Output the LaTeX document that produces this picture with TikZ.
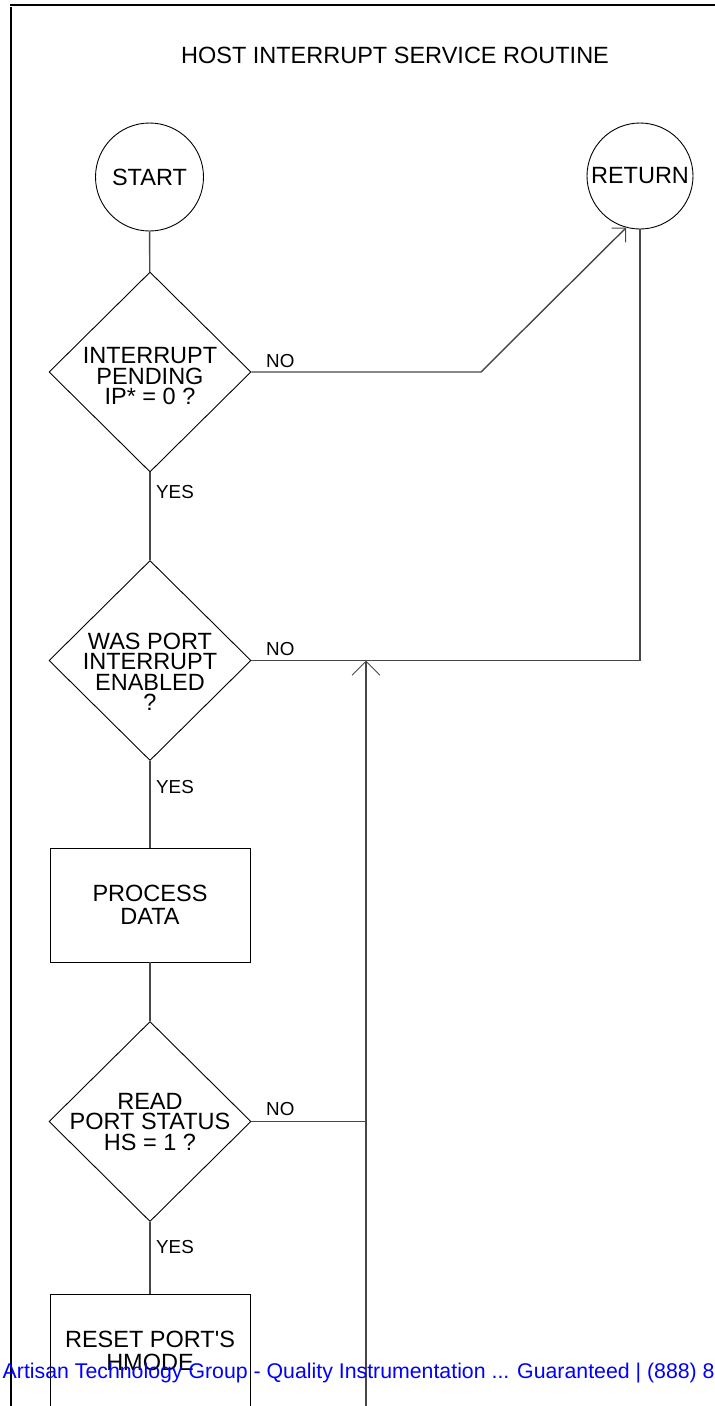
\documentclass[tikz,border=0pt]{standalone}
\usepackage{fontspec}
\setmainfont{Liberation Sans}
\newfontfamily\plainsans{Liberation Sans}
\usetikzlibrary{shapes.geometric,arrows.meta}
\begin{document}
\begin{tikzpicture}[x=1pt,y=-1pt,
  conn/.style={draw=black!72, line width=1.4pt},
  shp/.style={draw=black, line width=0.9pt},
  dec/.style={shp, diamond, minimum width=202pt, minimum height=200pt, inner sep=0pt},
  term/.style={shp, circle, inner sep=0pt, font=\fontsize{23.5}{23.5}\selectfont},
  procbox/.style={shp, rectangle, minimum width=200pt, minimum height=114pt, inner sep=0pt, align=center, font=\plainsans\fontsize{23.5}{23.5}\selectfont},
  big/.style={font=\fontsize{23.5}{20.5}\selectfont, align=center, inner sep=0pt},
  lab/.style={font=\fontsize{18.8}{20}\selectfont, inner sep=0pt, anchor=west},
  tipA/.style={-{Straight Barb[length=10pt,width=20pt,line width=1pt]}},
  tipB/.style={-{Straight Barb[length=14pt,width=28pt,line width=1pt]}}
]
\useasboundingbox (0,0) rectangle (715,1406);
\clip (0,0) rectangle (715,1406);
% page frame
\draw[line width=2.2pt] (10,5) -- (715,5);
\draw[line width=2.2pt] (11,7) -- (11,1410);
% title
\node[big] (title) at (395,55) {HOST INTERRUPT SERVICE ROUTINE};
% terminals
\node[term, minimum size=108pt] (start) at (149.5,177) {START};
\node[term, minimum size=106pt] (ret) at (640,176) {RETURN};
% decisions and processes
\node[dec] (d1) at (150,372) {};
\node[big] (d1t) at (150,376.5) {INTERRUPT\\PENDING\\IP* = 0 ?};
\node[dec] (d2) at (150,660.5) {};
\node[big] (d2t) at (150,672) {WAS PORT\\INTERRUPT\\ENABLED\\?};
\node[procbox] (box1) at (150,905) {PROCESS\\DATA};
\node[dec] (d3) at (150,1121.5) {};
\node[big] (d3t) at (150,1122) {READ\\PORT STATUS\\HS = 1 ?};
\node[procbox] (box2) at (150,1351) {RESET PORT'S\\HMODE};
% connectors
\coordinate (k1) at (481,372);
\coordinate (k2) at (640,660.5);
\coordinate (k3) at (366,1121.5);
\coordinate (vbot) at (366,1412);
\coordinate (vtop) at (366,660.5);
\draw[conn] (start) -- (d1);
\draw[conn, tipA] (d1.east) -- (k1) -- (ret.-105);
\draw[conn] (ret.south) -- (k2) -- (d2.east);
\draw[conn] (d1) -- (d2);
\draw[conn] (d2) -- (box1);
\draw[conn] (box1) -- (d3);
\draw[conn] (d3) -- (box2);
\draw[conn] (d3.east) -- (k3);
\draw[conn, tipB] (vbot) -- (vtop);
% labels
\node[lab] (no1) at (266,361) {NO};
\node[lab] (no2) at (266,649) {NO};
\node[lab] (no3) at (266,1109) {NO};
\node[lab] (yes1) at (156,492) {YES};
\node[lab] (yes2) at (156,787) {YES};
\node[lab] (yes3) at (156,1247) {YES};
% watermark
\node[font=\fontsize{21.3}{21.3}\selectfont, text=blue, anchor=base west, inner sep=0pt] (wm) at (2.5,1378) {Artisan Technology Group - Quality Instrumentation ... Guaranteed | (888) 8};
\end{tikzpicture}
\end{document}
